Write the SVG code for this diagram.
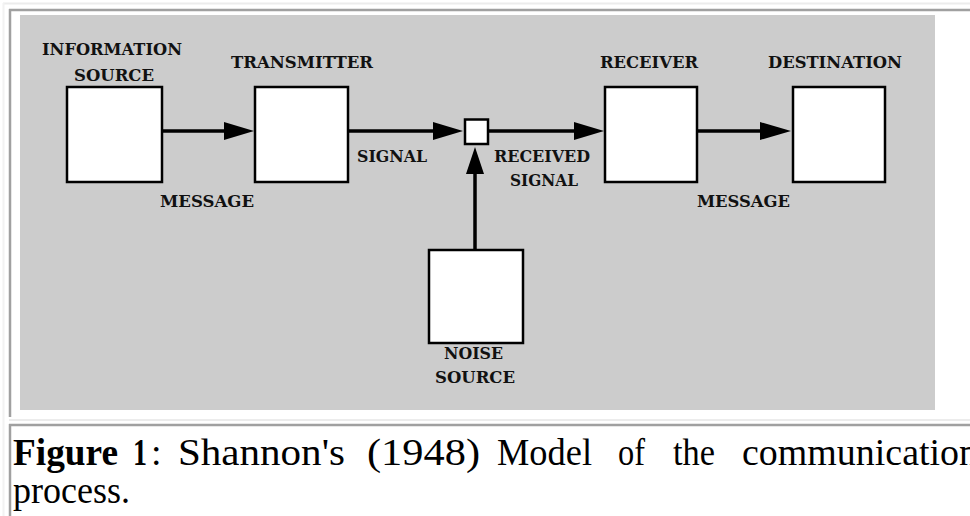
<svg xmlns="http://www.w3.org/2000/svg" width="970" height="516" viewBox="0 0 970 516">
<defs>
<style>
.lbl{font-family:"DejaVu Serif","Liberation Serif",serif;font-weight:bold;font-size:17px;fill:#111}
.box{fill:#fff;stroke:#000;stroke-width:2.5}
.wire{stroke:#000;stroke-width:3.5;fill:none}
.head{fill:#000}
.cap{font-family:"Liberation Serif","Times New Roman",serif;font-size:38px;fill:#000}
.capb{font-family:"Liberation Serif","Times New Roman",serif;font-size:38px;font-weight:bold;fill:#000}
</style>
</defs>
<rect x="0" y="0" width="970" height="516" fill="#fff"/>
<g id="frame">
<line x1="3" y1="3.5" x2="970" y2="3.5" stroke="#ececec" stroke-width="2"/>
<line x1="3.5" y1="3" x2="3.5" y2="516" stroke="#f2f2f2" stroke-width="2"/>
<line x1="9" y1="10" x2="970" y2="10" stroke="#a0a0a0" stroke-width="2.5"/>
<line x1="10" y1="9" x2="10" y2="417" stroke="#a0a0a0" stroke-width="2.5"/>
<line x1="9" y1="420" x2="970" y2="420" stroke="#ececec" stroke-width="2"/>
<line x1="9" y1="425" x2="970" y2="425" stroke="#a0a0a0" stroke-width="2.5"/>
<line x1="10" y1="424" x2="10" y2="516" stroke="#a0a0a0" stroke-width="2.5"/>
<rect x="20" y="15" width="915" height="395" fill="#cccccc"/>
</g>
<g id="connectors">
<line class="wire" x1="158" y1="131" x2="226" y2="131"/>
<polygon class="head" points="224,122 254,131 224,140"/>
<line class="wire" x1="346" y1="131" x2="435" y2="131"/>
<polygon class="head" points="433,122 463,131 433,140"/>
<line class="wire" x1="487" y1="131" x2="576" y2="131"/>
<polygon class="head" points="574,122 604,131 574,140"/>
<line class="wire" x1="695" y1="131" x2="762" y2="131"/>
<polygon class="head" points="760,122 791,131 760,140"/>
<line class="wire" x1="475" y1="251" x2="475" y2="172"/>
<polygon class="head" points="466,174 475,147 484,174"/>
</g>
<g id="info-source">
<rect class="box" x="67" y="87" width="95" height="95"/>
<text class="lbl" x="42" y="55" textLength="140" lengthAdjust="spacingAndGlyphs">INFORMATION</text>
<text class="lbl" x="74" y="81" textLength="80" lengthAdjust="spacingAndGlyphs">SOURCE</text>
<text class="lbl" x="160" y="207" textLength="94" lengthAdjust="spacingAndGlyphs">MESSAGE</text>
</g>
<g id="transmitter">
<rect class="box" x="255" y="87" width="93" height="95"/>
<text class="lbl" x="231" y="68" textLength="142" lengthAdjust="spacingAndGlyphs">TRANSMITTER</text>
<text class="lbl" x="357" y="162" textLength="70" lengthAdjust="spacingAndGlyphs">SIGNAL</text>
</g>
<g id="mixer">
<rect class="box" x="465" y="119.5" width="23" height="24.5"/>
<text class="lbl" x="494" y="162" textLength="96" lengthAdjust="spacingAndGlyphs">RECEIVED</text>
<text class="lbl" x="510" y="186" textLength="68" lengthAdjust="spacingAndGlyphs">SIGNAL</text>
</g>
<g id="receiver">
<rect class="box" x="605" y="87" width="92" height="95"/>
<text class="lbl" x="600" y="68" textLength="98" lengthAdjust="spacingAndGlyphs">RECEIVER</text>
<text class="lbl" x="697" y="207" textLength="93" lengthAdjust="spacingAndGlyphs">MESSAGE</text>
</g>
<g id="destination">
<rect class="box" x="793" y="87" width="92" height="95"/>
<text class="lbl" x="768" y="68" textLength="134" lengthAdjust="spacingAndGlyphs">DESTINATION</text>
</g>
<g id="noise-source">
<rect class="box" x="429" y="250" width="94" height="93"/>
<text class="lbl" x="444" y="359" textLength="59" lengthAdjust="spacingAndGlyphs">NOISE</text>
<text class="lbl" x="435" y="383" textLength="80" lengthAdjust="spacingAndGlyphs">SOURCE</text>
</g>
<g id="caption">
<text class="capb" x="13" y="465" textLength="105" lengthAdjust="spacingAndGlyphs">Figure</text>
<text class="capb" x="133" y="465" textLength="14" lengthAdjust="spacingAndGlyphs">1</text>
<text class="cap" x="151" y="465">:</text>
<text class="cap" x="178" y="465" textLength="167" lengthAdjust="spacingAndGlyphs">Shannon's</text>
<text class="cap" x="367" y="465" textLength="113" lengthAdjust="spacingAndGlyphs">(1948)</text>
<text class="cap" x="497" y="465" textLength="95" lengthAdjust="spacingAndGlyphs">Model</text>
<text class="cap" x="618" y="465" textLength="27" lengthAdjust="spacingAndGlyphs">of</text>
<text class="cap" x="673" y="465" textLength="42" lengthAdjust="spacingAndGlyphs">the</text>
<text class="cap" x="742" y="465" textLength="236" lengthAdjust="spacingAndGlyphs">communication</text>
<text class="cap" x="13" y="503" textLength="117" lengthAdjust="spacingAndGlyphs">process.</text>
</g>
</svg>
